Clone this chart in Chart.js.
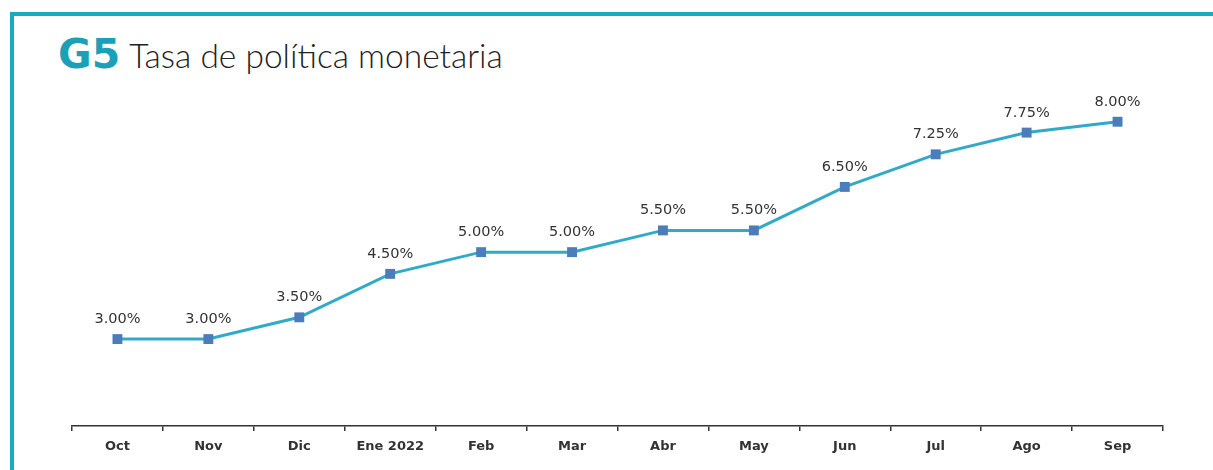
<!DOCTYPE html>
<html>
<head>
<meta charset="utf-8">
<script src="https://cdn.jsdelivr.net/npm/chart.js@4"></script>
<style>
  html, body { margin: 0; padding: 0; background: #fff; }
  #wrap { position: relative; width: 1213px; height: 470px; overflow: hidden; }
  #topline { position: absolute; left: 10px; top: 12px; width: 1203px; height: 4px; background: #1BA9BF; }
  #leftline { position: absolute; left: 10px; top: 12px; width: 4px; height: 458px; background: #1BA9BF; }
  #title { position: absolute; left: 58px; top: 30px; white-space: nowrap; color: #222; }
  #title .g { font-family: "DejaVu Sans", sans-serif; font-weight: 700; font-size: 41px; color: #1BA0B8; letter-spacing: 0px; }
  #title .t { font-family: "Lato", sans-serif; font-weight: 300; font-size: 33.5px; margin-left: 9px; }
  canvas { position: absolute; left: 0; top: 0; }
</style>
</head>
<body>
<div id="wrap">
  <div id="topline"></div>
  <div id="leftline"></div>
  <div id="title"><span class="g">G5</span><span class="t">Tasa de política monetaria</span></div>
  <canvas id="c" width="1213" height="470"></canvas>
</div>
<script>
const categories = ["Oct", "Nov", "Dic", "Ene 2022", "Feb", "Mar", "Abr", "May", "Jun", "Jul", "Ago", "Sep"];
const rateValues = [3.00, 3.00, 3.50, 4.50, 5.00, 5.00, 5.50, 5.50, 6.50, 7.25, 7.75, 8.00];
const yMin = 1;
const yMax = 8.5;

const labelPlugin = {
  id: 'pointLabels',
  afterDatasetsDraw(chart) {
    const ctx = chart.ctx;
    const meta = chart.getDatasetMeta(0);
    ctx.save();
    ctx.font = '14.5px "DejaVu Sans", sans-serif';
    ctx.fillStyle = '#333';
    ctx.textAlign = 'center';
    ctx.textBaseline = 'alphabetic';
    meta.data.forEach((pt, i) => {
      ctx.fillText(rateValues[i].toFixed(2) + '%', pt.x, pt.y - 16);
    });
    ctx.restore();
  }
};

new Chart(document.getElementById('c'), {
  type: 'line',
  data: {
    labels: categories,
    datasets: [{
      data: rateValues,
      borderColor: '#33A9C8',
      borderWidth: 3,
      pointStyle: 'rect',
      pointRadius: 7,
      pointBackgroundColor: '#4A7DB9',
      pointBorderColor: '#4A7DB9',
      pointBorderWidth: 0,
      tension: 0,
      fill: false
    }]
  },
  options: {
    responsive: false,
    animation: false,
    layout: { padding: { left: 72, right: 50, top: 100, bottom: 0 } },
    plugins: { legend: { display: false }, tooltip: { enabled: false } },
    scales: {
      x: {
        offset: true,
        afterFit(scale) { scale.height = 44; },
        grid: { offset: true, drawOnChartArea: false, drawTicks: true, tickLength: 5, color: '#333', lineWidth: 1.5 },
        border: { display: true, color: '#333', width: 1.5 },
        ticks: { color: '#333', padding: 8, font: { family: '"DejaVu Sans", sans-serif', weight: 'bold', size: 13 }, maxRotation: 0, autoSkip: false }
      },
      y: {
        display: false,
        min: yMin,
        max: yMax
      }
    }
  },
  plugins: [labelPlugin]
});
</script>
</body>
</html>
